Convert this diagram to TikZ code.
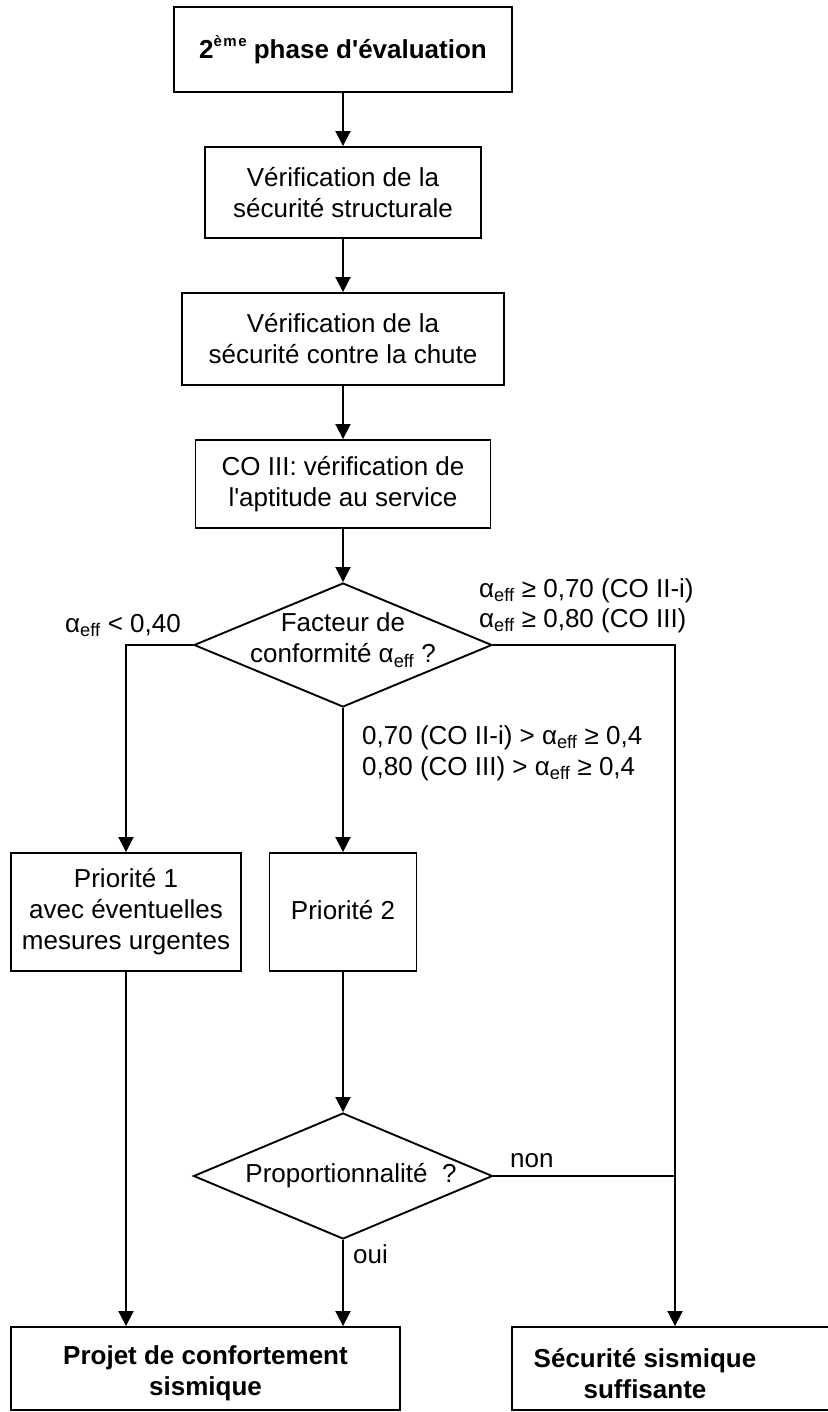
\documentclass[tikz,border=0pt]{standalone}
\usepackage{fontspec}
\setmainfont{Liberation Sans}
\usetikzlibrary{arrows.meta,shapes.geometric}
\newcommand\aeff{α\textsubscript{eff}}
\newcommand\apos{\textquotesingle}
\tikzset{
  base/.style={font=\fontsize{26pt}{31pt}\selectfont},
  bold/.style={font=\fontsize{26pt}{31pt}\selectfont\bfseries},
  box/.style={base, draw, line width=1.9pt, inner sep=0pt, align=center},
  bbox/.style={box, bold},
  dia/.style={draw, diamond, line width=1.9pt, inner sep=0pt},
  txt/.style={base, inner sep=0pt, align=center},
  lbl/.style={base, inner sep=0pt, anchor=base west},
  arr/.style={-{Triangle[width=15pt,length=15pt]}, line width=1.9pt},
  ln/.style={line width=1.9pt}
}
\begin{document}
\begin{tikzpicture}[x={(1pt,0)}, y={(0,-1pt)}]
\useasboundingbox (0,0) rectangle (827,1412);
% main column
\node[bbox, minimum width=338pt, minimum height=85pt] (title) at (343,49.5) {2\raisebox{0.48em}{\fontsize{15pt}{15pt}\selectfont è\kern1.5pt m\kern1.5pt e}\ phase d\apos évaluation};
\node[box, minimum width=276pt, minimum height=91pt] (v1) at (343,192.5) {Vérification de la\\sécurité structurale};
\node[box, minimum width=322pt, minimum height=92pt] (v2) at (343,339) {Vérification de la\\sécurité contre la chute};
\node[box, minimum width=295pt, minimum height=88pt] (v3) at (343,484) {CO III: vérification de\\l\apos aptitude au service};
\node[dia, minimum width=298pt, minimum height=124pt] (d1) at (343,645) {};
\node[txt] (d1t) at (343,640) {Facteur de\\conformité \aeff\ ?};
\node[box, minimum width=230pt, minimum height=118pt] (p1) at (126,912) {Priorité 1\\avec éventuelles\\mesures urgentes};
\node[box, minimum width=147pt, minimum height=118pt] (p2) at (343,912) {};
\node[txt] (p2t) at (343,910) {Priorité 2};
\node[dia, minimum width=299pt, minimum height=126pt] (d2) at (343,1176) {};
\node[txt] (d2t) at (351,1176) {Proportionnalité\ \ ?};
\node[box, minimum width=389pt, minimum height=83pt] (proj) at (205.5,1368.5) {};
\node[txt, bold] (projt) at (205.5,1373) {Projet de confortement\\sismique};
\node[box, minimum width=338pt, minimum height=83pt] (secu) at (681,1368.5) {};
\node[txt, bold] (secut) at (645,1374) {Sécurité sismique\\suffisante};
\coordinate (c1) at (675,645);
\coordinate (c0) at (126,645);
% connectors
\draw[arr] (title) -- (v1);
\draw[arr] (v1) -- (v2);
\draw[arr] (v2) -- (v3);
\draw[arr] (v3) -- (d1);
\draw[arr] (d1.west) -- (c0) -- (p1.north);
\draw[arr] (d1.south) -- (p2.north);
\draw[arr] (d1.east) -- (c1) -- (c1 |- secu.north);
\draw[arr] (p1.south) -- (p1.south |- proj.north);
\draw[arr] (p2.south) -- (d2.north);
\draw[arr] (d2.south) -- (d2.south |- proj.north);
\draw[ln] (d2.east) -- (d2.east -| c1);
% labels
\node[lbl] (l1) at (65,632) {\aeff{} < 0,40};
\node[lbl] (r1) at (479,597) {\aeff{} ≥ 0,70 (CO II-i)};
\node[lbl] (r2) at (479,627) {\aeff{} ≥ 0,80 (CO III)};
\node[lbl] (m1) at (362,744) {0,70 (CO II-i) > \aeff{} ≥ 0,4};
\node[lbl] (m2) at (362,775) {0,80 (CO III) > \aeff{} ≥ 0,4};
\node[lbl] (non) at (510,1167) {non};
\node[lbl] (oui) at (353,1263) {oui};
\end{tikzpicture}
\end{document}
